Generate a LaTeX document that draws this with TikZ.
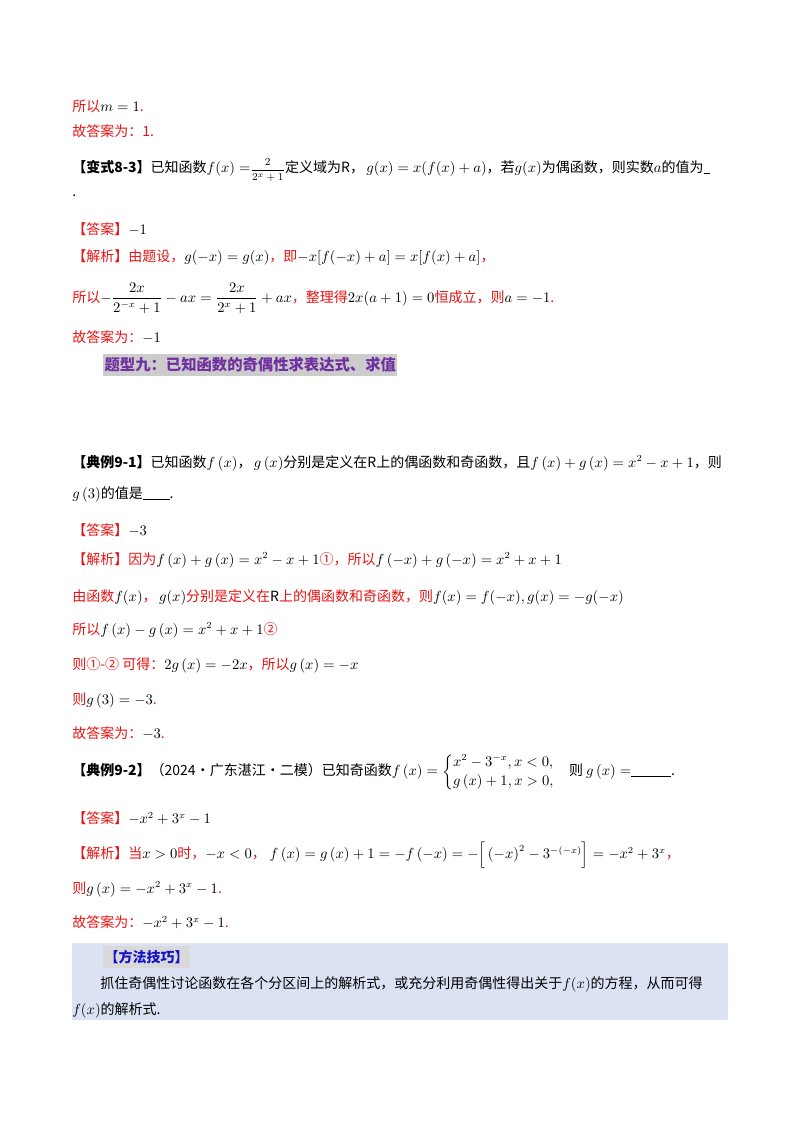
\documentclass[tikz,border=0pt]{standalone}
\usepackage{fontspec}
\usepackage{amsmath}
\setmainfont{Noto Sans CJK SC}
\definecolor{rd}{RGB}{230,20,20}
\definecolor{pu}{RGB}{112,48,160}
\definecolor{bb}{RGB}{218,226,243}
\definecolor{bl}{RGB}{20,20,200}
\begin{document}
\begin{tikzpicture}[x=0.75pt,y=-0.75pt,
  t/.style={anchor=west,inner sep=0pt,font=\fontsize{10.5}{12}\selectfont},
  r/.style={t,text=rd}]
\useasboundingbox (0,0) rectangle (800,1132);
\fill[white] (0,0) rectangle (800,1132);
\node[r] (l1) at (72,106) {所以\textcolor{black}{$m=1$}.};
\node[r] (l2) at (72,131) {故答案为：1.};
\node[t] (l3) at (72,170) {\textbf{【变式8-3】}已知函数$f(x)=${\fontsize{8.5}{10}\selectfont$\dfrac{2}{2^x+1}$}定义域为$\mathrm{R}$，\,$g(x)=x(f(x)+a)$，若$g(x)$为偶函数，则实数$a$的值为\rule[-1pt]{5pt}{0.4pt}};
\node[t] (l4) at (72,196) {.};
\node[r] (l5) at (72,229) {【答案】\textcolor{black}{$-1$}};
\node[r] (l6) at (72,257) {【解析】由题设，\textcolor{black}{$g(-x)=g(x)$}，即\textcolor{black}{$-x[f(-x)+a]=x[f(x)+a]$}，};
\node[r] (l7) at (72,298) {所以\textcolor{black}{$-\dfrac{2x}{2^{-x}+1}-ax=\dfrac{2x}{2^x+1}+ax$}，整理得\textcolor{black}{$2x(a+1)=0$}恒成立，则\textcolor{black}{$a=-1$}.};
\node[r] (l8) at (72,337) {故答案为：\textcolor{black}{$-1$}};
\node[t,text=pu,fill=black!20,inner xsep=1pt,inner ysep=3pt,font=\fontsize{11.5}{14}\selectfont\bfseries] (ban) at (103,365) {题型九：已知函数的奇偶性求表达式、求值};
\node[t] (a1) at (72,463) {\textbf{【典例9-1】}已知函数$f\left(x\right)$，\,$g\left(x\right)$分别是定义在$\mathrm{R}$上的偶函数和奇函数，且$f\left(x\right)+g\left(x\right)=x^2-x+1$，则};
\node[t] (a2) at (72,494) {$g\left(3\right)$的值是\rule[-1pt]{20pt}{0.4pt}.};
\node[r] (a3) at (72,530) {【答案】\textcolor{black}{$-3$}};
\node[r] (a4) at (72,560) {【解析】因为\textcolor{black}{$f\left(x\right)+g\left(x\right)=x^2-x+1$}①，所以\textcolor{black}{$f\left(-x\right)+g\left(-x\right)=x^2+x+1$}};
\node[r] (a5) at (72,597) {由函数\textcolor{black}{$f(x)$}，\,\textcolor{black}{$g(x)$}分别是定义在\textcolor{black}{$\mathrm{R}$}上的偶函数和奇函数，则\textcolor{black}{$f(x)=f(-x),g(x)=-g(-x)$}};
\node[r] (a6) at (72,630) {所以\textcolor{black}{$f\left(x\right)-g\left(x\right)=x^2+x+1$}②};
\node[r] (a7) at (72,665) {则①-② 可得：\textcolor{black}{$2g\left(x\right)=-2x$}，所以\textcolor{black}{$g\left(x\right)=-x$}};
\node[r] (a8) at (72,700) {则\textcolor{black}{$g\left(3\right)=-3$}.};
\node[r] (a9) at (72,733) {故答案为：\textcolor{black}{$-3$}.};
\node[t] (b1) at (72,772) {\textbf{【典例9-2】}（2024·广东湛江·二模）已知奇函数$f\left(x\right)=\begin{cases}x^2-3^{-x},x<0,\\ g\left(x\right)+1,x>0,\end{cases}$则 $g\left(x\right)=$\rule[-1pt]{30pt}{0.4pt}.};
\node[r] (b2) at (72,818) {【答案】\textcolor{black}{$-x^2+3^x-1$}};
\node[r] (b3) at (72,855) {【解析】当\textcolor{black}{$x>0$}时，\textcolor{black}{$-x<0$}，\;\textcolor{black}{$f\left(x\right)=g\left(x\right)+1=-f\left(-x\right)=-\Big[\left(-x\right)^2-3^{-(-x)}\Big]=-x^2+3^x$}，};
\node[r] (b4) at (72,889) {则\textcolor{black}{$g\left(x\right)=-x^2+3^x-1$}.};
\node[r] (b5) at (72,922) {故答案为：\textcolor{black}{$-x^2+3^x-1$}.};
\fill[bb] (72,943) rectangle (728,1020);
\node[t,text=bl,fill=black!15,inner xsep=1pt,inner ysep=3pt,font=\fontsize{10.5}{12}\selectfont\bfseries] (m1) at (103,957) {【方法技巧】};
\node[t] (m2) at (100,984) {抓住奇偶性讨论函数在各个分区间上的解析式，或充分利用奇偶性得出关于$f(x)$的方程，从而可得};
\node[t] (m3) at (72,1010) {$f(x)$的解析式.};
\end{tikzpicture}
\end{document}
